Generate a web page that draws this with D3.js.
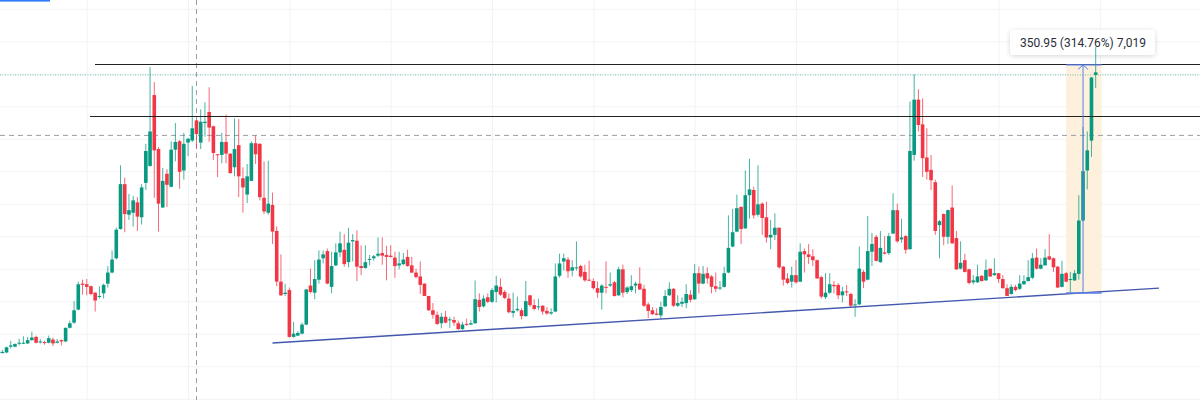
<!DOCTYPE html>
<html>
<head>
<meta charset="utf-8">
<script src="https://cdn.jsdelivr.net/npm/d3@7"></script>
<style>
  html, body { margin: 0; padding: 0; background: #fff; }
  svg { display: block; }
  .grid line { stroke: #f1f3f6; }
  .grid path { display: none; }
</style>
</head>
<body>
<div id="chart"></div>
<script>
// candle values, in price
var opens = [
  19,20,29,29,34,34,34,39,44,36,
  36,35,40,35,39,37,58,66,86,126,
  125,122,112,106,111,126,143,165,210,279,
  232,235,251,228,281,307,416,333,243,295,
  275,332,345,300,343,346,377,343,373,390,
  368,325,324,344,326,305,339,288,263,284,
  342,341,258,235,247,207,129,110,116,44,
  46,49,63,123,112,132,165,176,121,154,
  174,178,159,191,192,153,150,163,165,169,
  173,170,169,166,154,156,167,154,143,137,
  126,107,85,78,65,75,70,70,65,56,
  64,63,65,101,91,105,98,113,121,113,
  103,81,85,85,76,108,93,90,92,84,
  80,83,138,160,163,146,150,153,144,132,
  130,119,112,121,123,128,108,148,113,116,
  123,126,118,94,85,80,77,91,108,118,
  92,95,96,109,102,142,126,142,137,122,
  119,121,143,183,206,244,211,262,270,232,
  249,228,197,201,212,152,134,129,139,129,
  176,171,168,162,136,105,112,124,124,108,
  114,110,93,94,144,132,175,198,159,174,
  173,203,239,194,199,179,324,409,371,320,
  301,282,216,233,198,243,196,149,162,148,
  128,128,138,131,149,139,142,133,119,110,
  121,118,125,130,135,166,149,154,168,165,
  152,121,142,132,131,141,223,300,346,447
];
var closes = [
  21,28,31,33,35,35,39,43,35,37,
  35,42,34,37,37,58,65,85,125,124,
  121,110,100,107,124,143,163,209,279,233,
  239,254,229,274,330,360,331,249,284,278,
  332,344,298,341,349,365,356,375,375,366,
  327,324,344,326,296,333,291,274,291,342,
  325,259,237,249,206,129,108,112,44,49,
  50,63,117,113,133,163,171,126,153,174,
  188,156,189,193,152,150,159,164,168,172,
  169,167,167,153,157,163,153,143,136,124,
  107,85,78,64,75,66,71,66,56,63,
  63,65,102,90,103,98,116,123,109,104,
  82,84,87,76,99,93,87,91,83,80,
  82,137,157,165,145,151,151,137,131,131,
  119,112,123,120,125,107,148,112,120,122,
  126,117,92,84,79,78,90,107,118,92,
  96,98,110,101,142,126,141,134,121,118,
  120,142,181,205,242,210,262,271,231,248,
  227,197,201,212,151,132,127,139,128,175,
  171,167,162,134,106,112,125,122,108,114,
  113,92,94,149,129,176,187,161,181,172,
  199,239,191,197,178,330,409,370,319,298,
  285,207,222,198,239,188,148,158,144,127,
  131,137,130,147,137,142,133,119,107,121,
  116,126,130,136,165,149,155,166,163,151,
  120,141,129,133,142,223,299,331,443,451
];
var highs = [
  24,29,38,34,41,45,44,52,46,41,
  38,46,43,41,40,58,69,99,129,132,
  133,123,113,122,126,153,177,212,308,289,
  264,261,259,279,341,459,436,336,304,302,
  345,373,347,358,349,430,378,394,405,428,
  369,325,358,386,326,380,379,305,310,345,
  354,342,314,315,266,214,171,126,120,67,
  53,66,118,149,162,177,177,180,175,188,
  206,202,212,202,208,185,185,170,170,197,
  197,184,185,175,175,173,178,167,149,160,
  126,107,96,83,81,84,75,75,69,67,
  72,70,131,111,108,111,119,138,134,116,
  111,112,106,88,130,108,102,103,93,90,
  88,157,172,172,167,162,191,155,155,161,
  134,129,125,160,143,130,152,155,122,139,
  129,151,124,97,90,88,98,116,128,119,
  108,105,125,116,156,152,153,151,139,143,
  130,152,231,241,263,245,300,318,275,308,
  251,252,224,234,212,153,142,152,162,188,
  180,187,179,163,138,142,142,130,127,121,
  124,112,102,183,147,230,204,201,207,199,
  204,265,249,226,201,406,448,425,411,365,
  324,286,224,234,240,277,207,191,172,149,
  139,155,139,163,149,165,142,139,125,125,
  124,139,139,162,173,180,165,179,202,166,
  153,161,144,144,147,262,367,360,444,490
];
var lows = [
  19,19,26,28,31,33,33,38,34,34,
  32,34,30,34,31,36,57,64,85,109,
  108,108,83,103,103,120,142,163,209,205,
  224,214,207,217,270,306,258,206,243,244,
  274,314,272,286,322,344,334,333,352,344,
  316,290,311,311,295,291,259,235,250,284,
  310,254,233,232,187,122,107,107,43,43,
  45,48,62,111,102,126,157,125,111,153,
  167,152,151,160,130,139,149,154,161,167,
  155,131,166,135,148,154,152,142,134,110,
  107,84,72,62,57,65,58,61,55,55,
  61,62,64,83,89,96,96,97,107,102,
  80,74,83,71,75,90,85,85,78,78,
  78,82,135,146,135,137,146,135,129,130,
  117,104,86,111,121,106,107,105,110,113,
  111,116,90,73,78,77,72,90,107,90,
  90,90,88,97,101,111,125,126,111,113,
  116,120,142,182,205,187,210,226,226,229,
  201,189,179,193,149,123,125,120,126,128,
  143,156,153,133,103,102,110,111,102,97,
  107,90,75,93,119,131,153,160,158,171,
  170,202,189,189,172,178,315,360,290,286,
  270,201,165,185,187,187,147,148,143,125,
  125,127,129,130,136,138,127,118,107,109,
  114,116,124,129,133,148,148,154,162,144,
  119,120,128,112,130,132,222,271,321,427
];

// grid positions, in price and in bars
var gridPrices = [-50,0,50,100,150,200,250,300,350,400,450,500,550];
var gridBars = [20,44,68,92,116,140,164,188,212,236,260];

// drawn levels and lines
var lastPrice = 447;
var dashedPrice = 354;
var topLevel = 462.45, topLevelBar = 22;
var midLevel = 383, midLevelBar = 20.8;
var crosshairBar = 46;
var trendBars = [64, 274];
var trendPrices = [34.6, 119];

// measure tool
var measureBars = [252, 260.4];
var measureArrowBar = 256;
var measurePrices = [111.5, 462.45];
var measureLabel = '350.95 (314.76%) 7,019';

var width = 1200, height = 400;
var green = '#089981', red = '#f23645', blue = '#5b80e8';

var x = d3.scaleLinear().domain([0, opens.length - 1]).range([2.3, 1095.7]);
var y = d3.scaleLinear().domain([0, 550]).range([365.5, 8]);

var svg = d3.select('#chart').append('svg')
            .attr('width', width)
            .attr('height', height)
            .style('background', '#fff');

// shadow for the label
var defs = svg.append('defs');
var shadow = defs.append('filter').attr('id', 'labelShadow')
                 .attr('x', '-10%').attr('y', '-30%').attr('width', '120%').attr('height', '170%');
shadow.append('feDropShadow').attr('dx', 0).attr('dy', 1).attr('stdDeviation', 2.5)
      .attr('flood-color', '#000').attr('flood-opacity', 0.16);

// grid
svg.append('g').attr('class', 'grid')
   .attr('transform', 'translate(0,0.8)')
   .call(d3.axisLeft(y).tickValues(gridPrices).tickSize(-width).tickFormat(''));
svg.append('g').attr('class', 'grid')
   .call(d3.axisBottom(x).tickValues(gridBars).tickSize(height).tickFormat(''));

// top left blue strip
svg.append('rect').attr('x', 0).attr('y', 0).attr('width', 50).attr('height', 1.6).attr('fill', '#2f7bff');

// measure box
svg.append('rect')
   .attr('x', x(measureBars[0]))
   .attr('y', y(measurePrices[1]))
   .attr('width', x(measureBars[1]) - x(measureBars[0]))
   .attr('height', y(measurePrices[0]) - y(measurePrices[1]))
   .attr('fill', '#fdf0dc');

// last price and dashed level, crosshair
svg.append('line').attr('x1', 0).attr('x2', width).attr('y1', y(lastPrice)).attr('y2', y(lastPrice))
   .attr('stroke', '#089981').attr('stroke-opacity', 0.6).attr('stroke-dasharray', '1 1.5');
svg.append('line').attr('x1', 0).attr('x2', width).attr('y1', y(dashedPrice)).attr('y2', y(dashedPrice))
   .attr('stroke', '#9a9ea6').attr('stroke-dasharray', '5 4');
svg.append('line').attr('x1', x(crosshairBar)).attr('x2', x(crosshairBar)).attr('y1', 0).attr('y2', height)
   .attr('stroke', '#9a9ea6').attr('stroke-dasharray', '5 4');

// label
var labelG = svg.append('g');
labelG.append('rect')
      .attr('x', 1010).attr('y', 30).attr('width', 145).attr('height', 25).attr('rx', 4)
      .attr('fill', '#fff').attr('filter', 'url(#labelShadow)');
labelG.append('text')
      .attr('x', 1083).attr('y', 47)
      .attr('text-anchor', 'middle')
      .attr('font-family', 'Roboto, sans-serif')
      .attr('font-size', 12)
      .attr('fill', '#2a2e39')
      .text(measureLabel);

// candles
var candles = d3.range(opens.length);

svg.selectAll('.wick').data(candles).enter().append('line')
   .attr('class', 'wick')
   .attr('x1', function(i){ return x(i); })
   .attr('x2', function(i){ return x(i); })
   .attr('y1', function(i){ return y(highs[i]); })
   .attr('y2', function(i){ return y(lows[i]); })
   .attr('stroke', function(i){ return closes[i] >= opens[i] ? green : red; })
   .attr('stroke-opacity', 0.75)
   .attr('stroke-width', 1);

svg.selectAll('.body').data(candles).enter().append('rect')
   .attr('class', 'body')
   .attr('x', function(i){ return x(i) - 1.8; })
   .attr('width', 3.6)
   .attr('y', function(i){ return y(Math.max(opens[i], closes[i])); })
   .attr('height', function(i){ return Math.max(1, Math.abs(y(opens[i]) - y(closes[i]))); })
   .attr('fill', function(i){ return closes[i] >= opens[i] ? green : red; });

// black levels
svg.append('line').attr('x1', x(topLevelBar)).attr('x2', width).attr('y1', y(topLevel)).attr('y2', y(topLevel))
   .attr('stroke', '#222').attr('stroke-width', 1).attr('shape-rendering', 'crispEdges');
svg.append('line').attr('x1', x(midLevelBar)).attr('x2', width).attr('y1', y(midLevel)).attr('y2', y(midLevel))
   .attr('stroke', '#222').attr('stroke-width', 1).attr('shape-rendering', 'crispEdges');

// trend line
svg.append('line')
   .attr('x1', x(trendBars[0])).attr('y1', y(trendPrices[0]))
   .attr('x2', x(trendBars[1])).attr('y2', y(trendPrices[1]))
   .attr('stroke', '#4357ad').attr('stroke-width', 1.4);

// measure lines and arrow
measurePrices.forEach(function(p){
  svg.append('line').attr('x1', x(measureBars[0])).attr('x2', x(measureBars[1])).attr('y1', y(p)).attr('y2', y(p))
     .attr('stroke', blue).attr('stroke-width', 1.4);
});
svg.append('line')
   .attr('x1', x(measureArrowBar)).attr('x2', x(measureArrowBar))
   .attr('y1', y(measurePrices[0])).attr('y2', y(measurePrices[1]))
   .attr('stroke', blue).attr('stroke-width', 1);
svg.append('path')
   .attr('d', d3.line()([[x(measureArrowBar) - 5, y(measurePrices[1]) + 4.5],
                         [x(measureArrowBar), y(measurePrices[1])],
                         [x(measureArrowBar) + 5, y(measurePrices[1]) + 4.5]]))
   .attr('fill', 'none')
   .attr('stroke', blue).attr('stroke-width', 1);
</script>
</body>
</html>
